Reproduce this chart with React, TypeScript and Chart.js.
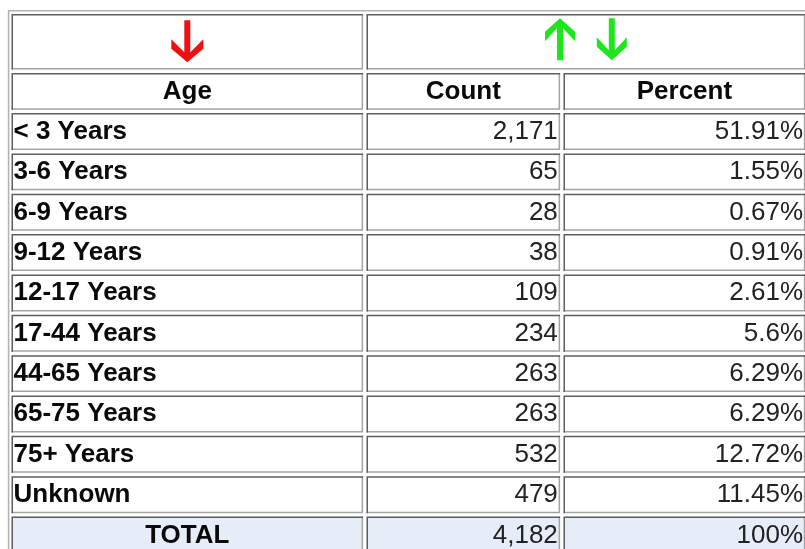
import React, { useEffect, useRef } from 'react';
import { Chart, registerables } from 'chart.js';

Chart.register(...registerables);

// ---- data ----
const headerLabels = ['Age', 'Count', 'Percent'];
const ageGroups = [
  '< 3 Years',
  '3-6 Years',
  '6-9 Years',
  '9-12 Years',
  '12-17 Years',
  '17-44 Years',
  '44-65 Years',
  '65-75 Years',
  '75+ Years',
  'Unknown',
];
const counts = [2171, 65, 28, 38, 109, 234, 263, 263, 532, 479];
const percents = [51.91, 1.55, 0.67, 0.91, 2.61, 5.6, 6.29, 6.29, 12.72, 11.45];
const totalLabel = 'TOTAL';
const totalPercent = 100;

// ---- layout (style) ----
const COL_EDGES = [0, 355, 552, 797.2];
const ARROW_ROW_H = 1.46;
const LABEL_ROW_H = 0.995;
const DATA_START = ARROW_ROW_H + LABEL_ROW_H;
const ROW_PX = 40.35;
const PAD_LEFT = 9.8;
const PAD_TOP = 12.3;
const W = 805;
const H = 549;

const fmtCount = (n: number) => n.toLocaleString('en-US');
const fmtPct = (n: number) => String(n) + '%';

function drawArrow(ctx: CanvasRenderingContext2D, cx: number, cy: number, dir: 1 | -1, color: string, HW: number) {
  const L = 42;
  const hw = 3;
  ctx.save();
  ctx.translate(cx, cy);
  ctx.scale(1, dir);
  const by = L / 2;
  const pts: [number, number][] = [
    [-hw, by - L],
    [hw, by - L],
    [hw, by - 10],
    [HW, by - 23],
    [HW, by - 13.5],
    [0, by],
    [-HW, by - 13.5],
    [-HW, by - 23],
    [-hw, by - 10],
  ];
  ctx.beginPath();
  pts.forEach(([x, y], i) => (i === 0 ? ctx.moveTo(x, y) : ctx.lineTo(x, y)));
  ctx.closePath();
  ctx.fillStyle = color;
  ctx.fill();
  ctx.restore();
}

const tablePlugin = {
  id: 'tablePlugin',
  afterDraw(chart: any) {
    const ctx: CanvasRenderingContext2D = chart.ctx;
    const xs = chart.scales.x;
    const ys = chart.scales.y;
    const px = (v: number) => xs.getPixelForValue(v);
    const py = (v: number) => ys.getPixelForValue(v);
    const g = 1.7;

    ctx.save();
    ctx.fillStyle = '#ffffff';
    ctx.fillRect(0, 0, chart.width, chart.height);

    // outer table border (outset: top/left light)
    ctx.strokeStyle = '#b4b4b4';
    ctx.lineWidth = 1.6;
    ctx.beginPath();
    ctx.moveTo(px(0) - 1.2, chart.height);
    ctx.lineTo(px(0) - 1.2, py(0) - 1.5);
    ctx.lineTo(chart.width, py(0) - 1.5);
    ctx.stroke();

    const cellRect = (c0: number, c1: number, r0: number, r1: number) => ({
      l: px(COL_EDGES[c0]) + g,
      r: px(COL_EDGES[c1]) - g,
      t: py(r0) + g,
      b: py(r1) - g,
    });

    const drawCell = (c0: number, c1: number, r0: number, r1: number, bg: string) => {
      const { l, r, t, b } = cellRect(c0, c1, r0, r1);
      ctx.fillStyle = bg;
      ctx.fillRect(l, t, r - l, b - t);
      ctx.lineWidth = 1.5;
      ctx.strokeStyle = '#a4a4a4';
      ctx.beginPath();
      ctx.moveTo(r - 0.75, t);
      ctx.lineTo(r - 0.75, b - 0.75);
      ctx.lineTo(l, b - 0.75);
      ctx.stroke();
      ctx.strokeStyle = '#5e5e5e';
      ctx.beginPath();
      ctx.moveTo(l + 0.75, b);
      ctx.lineTo(l + 0.75, t + 0.75);
      ctx.lineTo(r, t + 0.75);
      ctx.stroke();
      return { l, r, t, b };
    };

    const bold = 'bold 26px "Liberation Sans", Arial, sans-serif';
    const normal = '26px "Liberation Sans", Arial, sans-serif';
    const text = (s: string, x: number, rowTop: number, rowBot: number, align: CanvasTextAlign, font: string, color = '#000000') => {
      ctx.font = font;
      ctx.fillStyle = color;
      ctx.textAlign = align;
      ctx.textBaseline = 'alphabetic';
      ctx.fillText(s, x, (rowTop + rowBot) / 2 + 7.5);
    };

    // arrow row
    const a0 = drawCell(0, 1, 0, ARROW_ROW_H, '#ffffff');
    const a1 = drawCell(1, 3, 0, ARROW_ROW_H, '#ffffff');
    const a0cx = (a0.l + a0.r) / 2;
    drawArrow(ctx, a0cx, (a0.t + a0.b) / 2 - 0.6, 1, '#ee1111', 16);
    const a1cx = (a1.l + a1.r) / 2;
    const gy = (a1.t + a1.b) / 2 - 2.4;
    drawArrow(ctx, a1cx - 25.9, gy, -1, '#1ee61e', 15);
    drawArrow(ctx, a1cx + 25.9, gy, 1, '#1ee61e', 15);

    // header labels row
    headerLabels.forEach((h, i) => {
      const c = drawCell(i, i + 1, ARROW_ROW_H, DATA_START, '#ffffff');
      text(h, (c.l + c.r) / 2, c.t, c.b, 'center', bold, '#0a0a0a');
    });

    // data rows
    ageGroups.forEach((age, i) => {
      const r0 = DATA_START + i;
      const r1 = r0 + 1;
      const c0 = drawCell(0, 1, r0, r1, '#ffffff');
      text(age, c0.l + 2, c0.t, c0.b, 'left', bold, '#0a0a0a');
      const c1 = drawCell(1, 2, r0, r1, '#ffffff');
      text(fmtCount(counts[i]), c1.r - 2.3, c1.t, c1.b, 'right', normal, '#222222');
      const c2 = drawCell(2, 3, r0, r1, '#ffffff');
      text(fmtPct(percents[i]), c2.r - 2.3, c2.t, c2.b, 'right', normal, '#222222');
    });

    // total row
    const tr0 = DATA_START + ageGroups.length;
    const tr1 = tr0 + 1;
    const totalCount = counts.reduce((a, b) => a + b, 0);
    const bg = '#e6ecf8';
    const t0 = drawCell(0, 1, tr0, tr1, bg);
    text(totalLabel, (t0.l + t0.r) / 2, t0.t, t0.b, 'center', bold, '#0a0a0a');
    const t1 = drawCell(1, 2, tr0, tr1, bg);
    text(fmtCount(totalCount), t1.r - 2.3, t1.t, t1.b, 'right', normal, '#222222');
    const t2 = drawCell(2, 3, tr0, tr1, bg);
    text(fmtPct(totalPercent), t2.r - 2.3, t2.t, t2.b, 'right', normal, '#222222');

    ctx.restore();
  },
};

export default function App() {
  const ref = useRef<HTMLCanvasElement | null>(null);

  useEffect(() => {
    if (!ref.current) return;
    const yMax = (H - PAD_TOP) / ROW_PX;
    const chart = new Chart(ref.current, {
      type: 'scatter',
      data: {
        datasets: [
          {
            label: 'Count',
            data: counts.map((c, i) => ({ x: (COL_EDGES[1] + COL_EDGES[2]) / 2, y: DATA_START + i + 0.5 })),
            pointRadius: 0,
            showLine: false,
          },
        ],
      },
      options: {
        animation: false,
        responsive: false,
        events: [],
        layout: { padding: { left: PAD_LEFT, top: PAD_TOP, right: 0, bottom: 0 } },
        plugins: { legend: { display: false }, tooltip: { enabled: false } },
        scales: {
          x: { type: 'linear', display: false, min: 0, max: W - PAD_LEFT },
          y: { type: 'linear', display: false, min: 0, max: yMax, reverse: true },
        },
      },
      plugins: [tablePlugin],
    });
    return () => chart.destroy();
  }, []);

  return (
    <div style={{ position: 'fixed', left: 0, top: 0, width: W, height: H, background: '#fff' }}>
      <canvas ref={ref} width={W} height={H} style={{ display: 'block', width: W, height: H }} />
    </div>
  );
}
